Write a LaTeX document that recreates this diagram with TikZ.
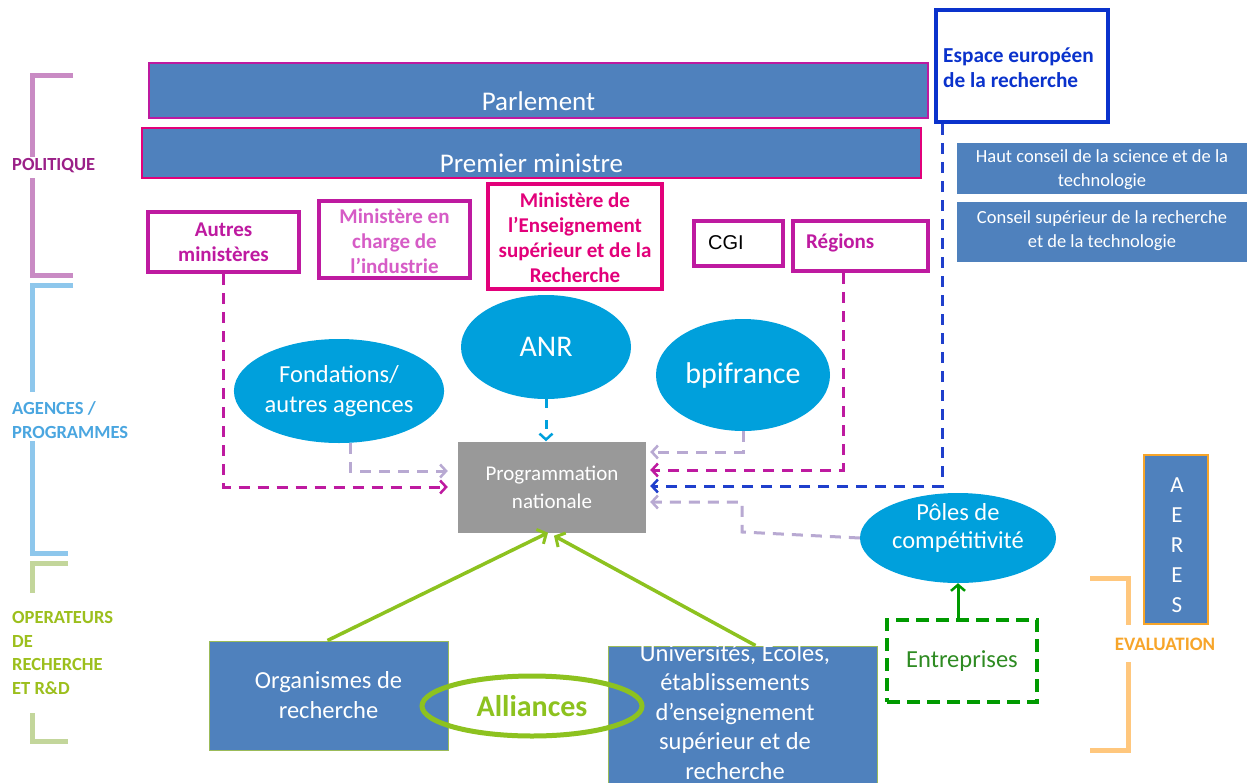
\documentclass[tikz,border=0pt]{standalone}
\usepackage{fontspec}
\setmainfont{Carlito}
\newfontfamily\arialf{Liberation Sans}
\usetikzlibrary{arrows.meta,shapes.geometric,calc}
\definecolor{boxblue}{HTML}{4F81BD}
\definecolor{cyanell}{HTML}{00A0DC}
\definecolor{progray}{HTML}{999999}
\definecolor{magb}{HTML}{BE1AA0}
\definecolor{magl}{HTML}{D65CC6}
\definecolor{pinkb}{HTML}{E2007A}
\definecolor{eublue}{HTML}{0A32CC}
\definecolor{dashblue}{HTML}{1F3FCC}
\definecolor{lav}{HTML}{B8A9D2}
\definecolor{lgreen}{HTML}{8DC21F}
\definecolor{dgreen}{HTML}{009A00}
\definecolor{entgreen}{HTML}{2E8B22}
\definecolor{obrack}{HTML}{FFC77D}
\definecolor{otext}{HTML}{F7A52A}
\definecolor{pbrack}{HTML}{C98BC4}
\definecolor{ptext}{HTML}{9B2088}
\definecolor{bbrack}{HTML}{8EC7EC}
\definecolor{btext}{HTML}{4AA6E0}
\definecolor{gbrack}{HTML}{C3D69B}
\definecolor{gtext}{HTML}{9CBF1C}
\definecolor{orgborder}{HTML}{9BBB59}
\tikzset{
  bluebox/.style={draw, fill=boxblue, inner sep=0pt, text=white, align=center},
  magbox/.style={draw=magb, line width=4pt, fill=white, inner sep=0pt, align=center, text=magb, font=\bfseries\fontsize{21}{25}\selectfont},
  agency/.style={ellipse, fill=cyanell, inner sep=0pt, text=white, align=center},
  bracket/.style={line width=5pt},
  tip/.style={-{Straight Barb[length=6pt,width=13pt,line width=2.5pt]}},
  dsh/.style={line width=3pt, dash pattern=on 11pt off 8pt, tip},
  grarrow/.style={line width=3.5pt, lgreen, -{Straight Barb[length=7pt,width=16pt,line width=3pt]}},
  sidelabel/.style={anchor=west, align=left, inner sep=0pt, font=\bfseries\fontsize{18.5}{23.5}\selectfont}
}
\begin{document}
\begin{tikzpicture}[x=1pt,y=-1pt]
\useasboundingbox[fill=white] (0,0) rectangle (1247,782);

% left brackets
\draw[bracket, pbrack] (73,75) -- (32,75) -- (32,157);
\draw[bracket, pbrack] (32,178) -- (32,275) -- (73,275);
\node[sidelabel, text=ptext] (lpol) at (12,166) {POLITIQUE};
\draw[bracket, bbrack] (73,285) -- (32,285) -- (32,392);
\draw[bracket, bbrack] (32,441) -- (32,553) -- (68,553);
\node[sidelabel, text=btext] (lag) at (12,420) {AGENCES /\\PROGRAMMES};
\draw[bracket, gbrack] (68,563) -- (32,563) -- (32,593);
\draw[bracket, gbrack] (32,713) -- (32,741) -- (68,741);
\node[sidelabel, text=gtext] (lop) at (12,653) {OPERATEURS\\DE\\RECHERCHE\\ET R\&D};

% top boxes
\node[bluebox, draw=magb, line width=1.2pt, minimum width=779, minimum height=55] (parl) at (538.5,90.5) {};
\node[text=white, font=\fontsize{27}{32}\selectfont, inner sep=0pt] (parlt) at ([yshift=-11pt]parl.center) {Parlement};
\node[bluebox, draw=pinkb, line width=1.2pt, minimum width=779, minimum height=50] (pm) at (531.5,153) {};
\node[text=white, font=\fontsize{27}{32}\selectfont, inner sep=0pt] (pmt) at ([yshift=-10pt]pm.center) {Premier ministre};

% ministries
\node[magbox, minimum width=151, minimum height=60] (autres) at (223.5,242) {Autres\\ministères};
\node[magbox, text=magl, minimum width=151, minimum height=77] (indus) at (394.5,239.5) {};
\node[text=magl, align=center, inner sep=0pt, font=\bfseries\fontsize{21}{25}\selectfont] (indust) at (394.5,241.5) {Ministère en\\charge de\\l’industrie};
\node[magbox, draw=pinkb, text=pinkb, minimum width=174, minimum height=105] (mesr) at (575,236) {};
\node[text=pinkb, align=center, inner sep=0pt, font=\bfseries\fontsize{21}{25}\selectfont] (mesrt) at (575,238) {Ministère de\\l’Enseignement\\supérieur et de la\\Recherche};
\node[magbox, minimum width=89, minimum height=45] (cgi) at (738,243) {};
\node[text=black, inner sep=0pt, font=\arialf\fontsize{20}{24}\selectfont] (cgit) at (726,243) {CGI};
\node[magbox, minimum width=135, minimum height=50] (regions) at (860.5,246) {};
\node[anchor=west, inner sep=0pt, text=magb, font=\bfseries\fontsize{21}{25}\selectfont] (regt) at (806,243) {Régions};

% Europe
\node[draw=eublue, line width=4pt, fill=white, minimum width=172, minimum height=112, inner sep=0pt] (eu) at (1022,66) {};
\node[anchor=west, align=left, inner sep=0pt, text=eublue, font=\bfseries\fontsize{21.3}{25}\selectfont] (eut) at (943,67.5) {Espace européen\\de la recherche};
\node[bluebox, draw=none, minimum width=290, minimum height=51] (hcst) at (1102,168.5) {};
\node[text=white, align=center, inner sep=0pt, font=\fontsize{18.5}{24}\selectfont] (hcstt) at (1102,170) {Haut conseil de la science et de la\\technologie};
\node[bluebox, draw=none, minimum width=290, minimum height=60] (csrt) at (1102,232) {};
\node[text=white, align=center, inner sep=0pt, font=\fontsize{18.5}{24}\selectfont] (csrtt) at (1102,231) {Conseil supérieur de la recherche\\et de la technologie};

% agencies
\node[agency, minimum width=170, minimum height=104, font=\fontsize{30}{36}\selectfont] (anr) at (546,347) {ANR};
\node[agency, minimum width=168, minimum height=104, font=\fontsize{24.5}{30}\selectfont] (fond) at (339,391) {Fondations/\\autres agences};
\node[agency, minimum width=174, minimum height=112, font=\fontsize{30}{36}\selectfont] (bpi) at (743,375) {bpifrance};

% programmation
\node[fill=progray, minimum width=188, minimum height=91, inner sep=0pt, text=white, align=center, font=\fontsize{21}{28}\selectfont] (prog) at (552,487) {Programmation\\nationale};

% poles / entreprises
\node[agency, minimum width=196, minimum height=90] (poles) at (958,538) {};
\node[text=white, align=center, inner sep=0pt, font=\fontsize{24.5}{28}\selectfont] (polest) at (958,528) {Pôles de\\compétitivité};
\node[draw=dgreen, line width=4pt, dash pattern=on 13pt off 7pt, minimum width=150, minimum height=82, inner sep=0pt, text=entgreen, font=\fontsize{24.5}{30}\selectfont] (entr) at (962,661) {Entreprises};
\draw[line width=3pt, dgreen, -{Straight Barb[length=6pt,width=14pt,line width=2.5pt]}] (entr.north -| poles.south) -- (poles.south);

% AERES / evaluation
\node[bluebox, draw=otext, line width=1.2pt, minimum width=64, minimum height=169] (aeres) at (1176,539.5) {};
\node[text=white, align=center, inner sep=0pt, font=\fontsize{23}{30}\selectfont] (aerest) at (1177,545) {A\\E\\R\\E\\S};
\node[inner sep=0pt, text=otext, font=\bfseries\fontsize{19}{22}\selectfont] (evalt) at (1165,644) {EVALUATION};
\draw[bracket, obrack] (1090,578) -- (1128,578) -- (1128,625);
\draw[bracket, obrack] (1128,662) -- (1128,750) -- (1090,750);

% operators
\node[bluebox, draw=orgborder, line width=1pt, minimum width=239, minimum height=109, font=\fontsize{24.5}{30}\selectfont] (org) at (328.5,695.5) {Organismes de\\recherche};
\node[bluebox, draw=orgborder, line width=1pt, minimum width=269, minimum height=140] (univ) at (742.5,716) {};
\node[text=white, align=center, inner sep=0pt, font=\fontsize{24.5}{29.5}\selectfont] (univt) at (735,712) {Universités, Ecoles,\\établissements\\d’enseignement\\supérieur et de\\recherche};
\node[ellipse, draw=lgreen, line width=5pt, minimum width=220, minimum height=60, inner sep=0pt, text=lgreen, font=\bfseries\fontsize{30}{34}\selectfont] (all) at (532,706) {Alliances};

% connectors to programmation
\draw[dsh, magb] (autres.south) |- ([xshift=-10pt]prog.west);
\draw[dsh, lav] ([xshift=11pt]fond.south) |- ([xshift=-10pt,yshift=16pt]prog.west);
\draw[dsh, cyanell, dash pattern=on 9pt off 12pt] (anr.south) -- ([xshift=-6pt]prog.north);
\draw[dsh, lav] (bpi.south) |- ([xshift=4pt,yshift=35pt]prog.east);
\draw[dsh, magb] ([xshift=-17.5pt]regions.south) |- ([xshift=4pt,yshift=17pt]prog.east);
\draw[dsh, dashblue] ([xshift=-80pt]eu.south) |- ([xshift=4pt,yshift=1pt]prog.east);
\draw[dsh, lav] (poles.west) -- (742,532) |- ([xshift=4pt,yshift=-15pt]prog.east);

% green arrows
\draw[grarrow] ([xshift=-1pt]org.north) -- ([xshift=-4pt]prog.south);
\draw[grarrow] ([xshift=13pt]univ.north) -- ([xshift=2pt,yshift=-3pt]prog.south);
\end{tikzpicture}
\end{document}
